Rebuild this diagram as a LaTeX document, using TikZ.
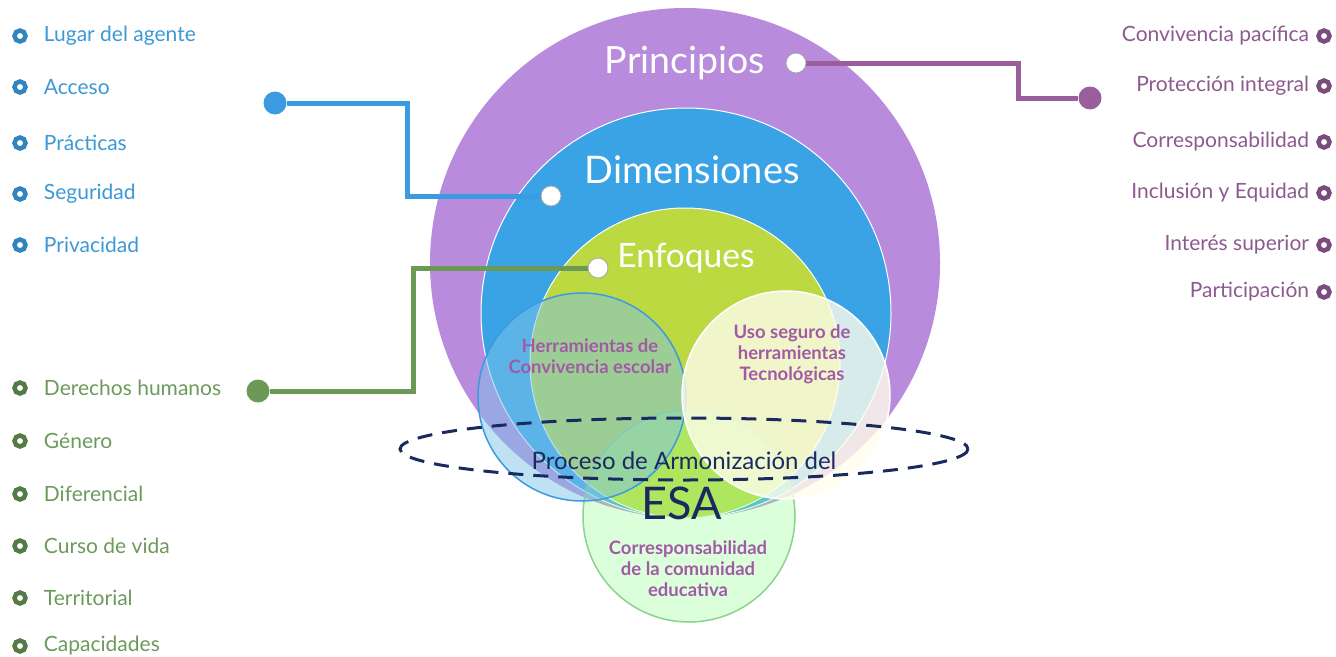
\documentclass[tikz,border=0pt]{standalone}
\usepackage{fontspec}
\setmainfont{Lato}
\usetikzlibrary{positioning}
\definecolor{princfill}{HTML}{B98BDC}
\definecolor{dimfill}{HTML}{3AA3E6}
\definecolor{enffill}{HTML}{BCD942}
\definecolor{princline}{HTML}{9A5E9C}
\definecolor{princtext}{HTML}{8C5A8E}
\definecolor{dimline}{HTML}{3A9BE0}
\definecolor{dimtext}{HTML}{3C98D6}
\definecolor{enfline}{HTML}{6A9A55}
\definecolor{enftext}{HTML}{6C9A5C}
\definecolor{venntext}{HTML}{A25AA6}
\definecolor{herrfill}{HTML}{7EC3E8}
\definecolor{navy}{HTML}{1B2A5E}

\begin{document}
\begin{tikzpicture}[x=1pt,y=-1pt,
  ring/.style={circle,draw,line width=4.5pt,inner sep=0pt,minimum size=11pt},
  item/.style={font=\fontsize{21}{24}\selectfont,inner sep=0pt},
  title/.style={text=white,inner sep=0pt},
  knob/.style={circle,fill=white,draw=gray!70,line width=0.8pt,inner sep=0pt,minimum size=20pt},
  hub/.style={circle,inner sep=0pt,minimum size=23pt},
  link/.style={line width=5pt},
  venn/.style={align=center,text=venntext,font=\fontsize{18.5}{21}\selectfont\bfseries}]
\useasboundingbox (0,0) rectangle (1336,656);

% nested circles
\fill[princfill] (685,263) circle [radius=255];
\fill[dimfill] (686,313) circle [radius=205];
\draw[white,line width=1pt] (686,313) circle [radius=205];
\fill[enffill] (685,363) circle [radius=155];
\draw[white,line width=1pt] (685,363) circle [radius=155];

% venn circles
\filldraw[fill=green!40,fill opacity=0.35,draw=green!60!black!45,line width=1.5pt] (689,516) circle [radius=106];
\filldraw[fill=herrfill,fill opacity=0.5,draw=dimline,line width=1.5pt] (582,397) circle [radius=104];
\filldraw[fill=yellow!7,fill opacity=0.8,draw=white,line width=1.5pt] (786,395) circle [radius=104];

% dashed ring
\draw[navy,line width=3pt,dash pattern=on 15pt off 10pt] (684,449) ellipse [x radius=284,y radius=31];

\node[venn] (herr) at (590,356) {Herramientas de\\Convivencia escolar};
\node[venn] (uso) at (792,354) {Uso seguro de\\herramientas\\Tecnológicas};
\node[venn] (corr) at (688,569) {Corresponsabilidad\\de la comunidad\\educativa};
\node[text=navy,font=\fontsize{24}{28}\selectfont] (proc) at (684,461) {Proceso de Armonización del};
\node[text=navy,font=\fontsize{45}{50}\selectfont] (esa) at (682,503) {ESA};

% titles
\node[title,font=\fontsize{37.5}{42}\selectfont] (princ) at (685,63) {Principios};
\node[title,font=\fontsize{38}{42}\selectfont] (dim) at (692,170) {Dimensiones};
\node[title,font=\fontsize{33.5}{38}\selectfont] (enf) at (686,258) {Enfoques};

% connectors
\coordinate (pbend) at (1018,63);
\coordinate (dbend) at (407,196);
\coordinate (ebend) at (413,268);
\node[hub,fill=princline] (princh) at (1090,98) {};
\node[hub,fill=dimline] (dimh) at (275,103) {};
\node[hub,fill=enfline] (enfh) at (258,391) {};
\draw[link,princline] (796,63) -- (pbend) |- (princh);
\draw[link,dimline] (551,196) -- (dbend) |- (dimh);
\draw[link,enfline] (598,268) -- (ebend) |- (enfh);
\node[knob] (princk) at (796,63) {};
\node[knob] (dimk) at (551,196) {};
\node[knob] (enfk) at (598,268) {};

% lists
\foreach \yy/\txt [count=\i] in {36/Lugar del agente,87/Acceso,143/Prácticas,194/Seguridad,245/Privacidad}
{
  \node[ring,draw=dimline!85!black] (dimr\i) at (20,\yy) {};
  \node[item,text=dimtext,right=16pt of dimr\i] (dimt\i) {\txt};
}
\foreach \yy/\txt [count=\i] in {388/Derechos humanos,441/Género,494/Diferencial,546/Curso de vida,598/Territorial,646/Capacidades}
{
  \node[ring,draw=enfline!80!black] (enfr\i) at (20,\yy) {};
  \node[item,text=enftext,right=16pt of enfr\i] (enft\i) {\txt};
}
\foreach \yy/\txt [count=\i] in {36/Convivencia pacífica,86/Protección integral,142/Corresponsabilidad,193/Inclusión y Equidad,245/Interés superior,292/Participación}
{
  \node[ring,draw=princline!80!black] (princr\i) at (1324,\yy) {};
  \node[item,text=princtext,left=7pt of princr\i] (princt\i) {\txt};
}
\end{tikzpicture}
\end{document}
